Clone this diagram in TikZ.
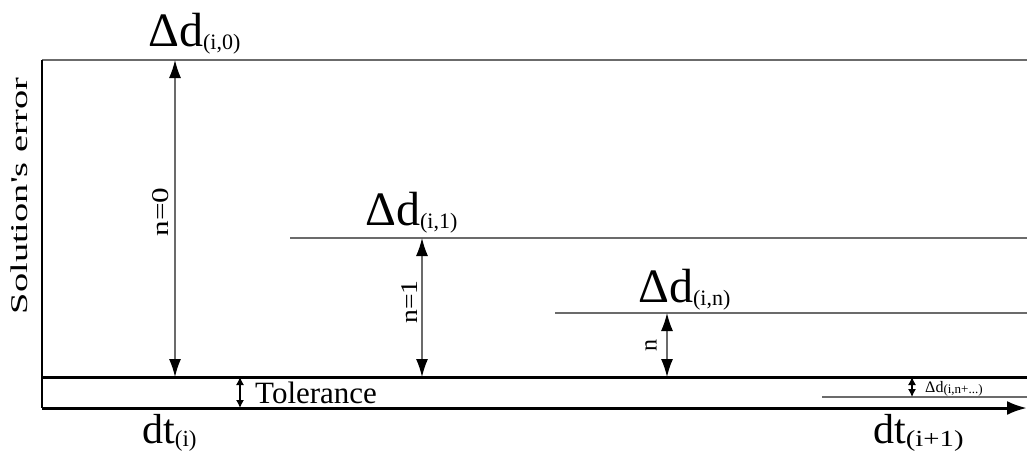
\documentclass[tikz,border=0pt]{standalone}
\usepackage{fontspec}
\setmainfont{Liberation Serif}
\usetikzlibrary{arrows.meta}
\definecolor{linegray}{gray}{0.42}
\newcommand{\subs}[2][22]{\raisebox{-3pt}{\fontsize{#1}{#1}\selectfont #2}}

\begin{document}
\begin{tikzpicture}[x=1pt,y=-1pt,>=Latex,
  level/.style={linegray,line width=1.3pt},
  thickline/.style={line width=3pt},
  errarrow/.style={linegray,line width=1.3pt,{Latex[length=18pt,width=12pt,black]}-{Latex[length=18pt,width=12pt,black]}},
  tolarrow/.style={line width=1.2pt,{Latex[length=8pt,width=8pt]}-{Latex[length=8pt,width=8pt]}},
  biglabel/.style={anchor=base west,inner sep=0pt,font=\fontsize{48}{48}\selectfont},
  timelabel/.style={anchor=base west,inner sep=0pt,font=\fontsize{42}{42}\selectfont},
  steplabel/.style={rotate=90,inner sep=0pt,font=\fontsize{24}{24}\selectfont}]
\useasboundingbox (0,0) rectangle (1027,452);
% levels
\coordinate (top0) at (42,60);
\coordinate (origin) at (42,408);
\coordinate (tolL) at (42,377);
\coordinate (tolR) at (1027,377);
\coordinate (top1) at (290,238);
\coordinate (topn) at (555,313);
\coordinate (topx) at (822,397);
\draw[level] (top0) -- (1027,60);
\draw[level] (top1) -- (1027,238);
\draw[level] (topn) -- (1027,313);
\draw[level] (topx) -- (1027,397);
\draw[line width=1.4pt] (top0) -- (origin);
\draw[thickline] (tolL) -- (tolR);
\draw[thickline,-{Latex[length=20pt,width=14pt]}] (origin) -- (1027,408);
% error arrows
\draw[errarrow] (175,60) -- (175,377);
\draw[errarrow] (422,238) -- (422,377);
\draw[errarrow] (667,313) -- (667,377);
\draw[tolarrow] (240,377) -- (240,408);
\draw[tolarrow] (912,377) -- (912,397);
% labels
\node[biglabel] (d0) at (148,47) {Δd\subs{(i,0)}};
\node[biglabel] (d1) at (365,225) {Δd\subs{(i,1)}};
\node[biglabel] (dn) at (638,302) {Δd\subs{(i,n)}};
\node[anchor=base west,inner sep=0pt,font=\fontsize{16}{16}\selectfont] (dx) at (925,392) {Δd\subs[13]{\raisebox{2pt}{(i,n+...)}}};
\node[timelabel] (dti) at (142,443) {dt\subs[23]{(i)}};
\node[timelabel] (dtii) at (873,443) {dt\subs[23]{\scalebox{1.25}[1]{(i+1)}}};
\node[anchor=base west,inner sep=0pt,font=\fontsize{31}{31}\selectfont] (tol) at (255,403) {Tolerance};
\node[steplabel] (n0) at (161,212) {\scalebox{1.3}[1]{n=0}};
\node[steplabel] (n1) at (410,302) {\scalebox{1.15}[1]{n=1}};
\node[steplabel] (nn) at (651,345) {n};
\node[rotate=90,inner sep=0pt,font=\fontsize{24}{24}\selectfont] (yl) at (19,196) {\scalebox{1.6}[1]{Solution\textquotesingle s error}};
\end{tikzpicture}
\end{document}
